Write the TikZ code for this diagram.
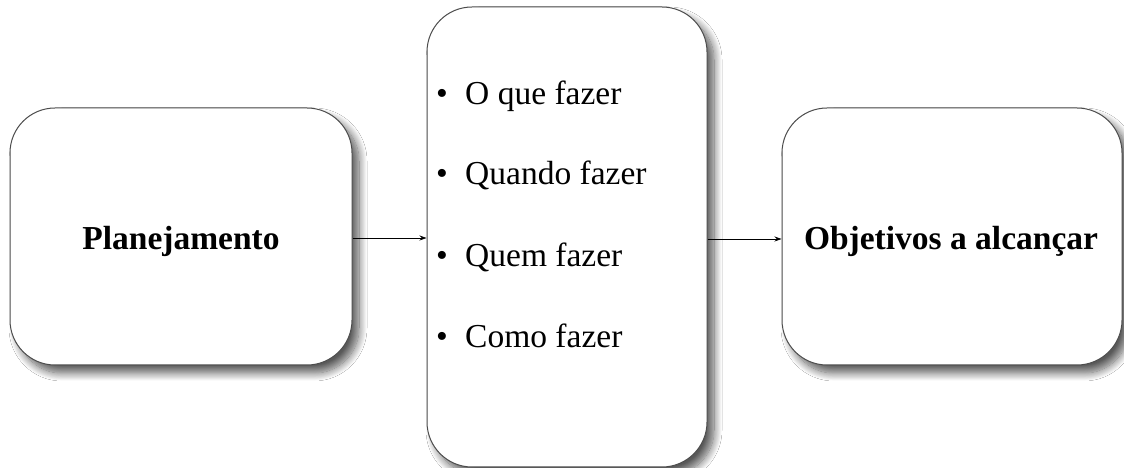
\documentclass[tikz,border=0pt]{standalone}
\usepackage{fontspec}
\setmainfont{Liberation Serif}
\usetikzlibrary{shadows.blur,arrows.meta}
\begin{document}
\begin{tikzpicture}[x=1pt,y=1pt,
  card/.style={draw=black!70, line width=1pt, fill=white, rounded corners=45pt,
    blur shadow={shadow xshift=7pt, shadow yshift=-8pt, shadow blur radius=8pt,
      shadow blur steps=12, shadow opacity=65}},
  title/.style={font=\fontsize{33.5}{40}\selectfont\bfseries, anchor=base},
  item/.style={font=\fontsize{33.5}{40}\selectfont, anchor=base west},
  flow/.style={line width=0.8pt, -{Stealth[length=7pt,width=5pt]}}]
\useasboundingbox (0,0) rectangle (1124,468);
\fill[white] (0,0) rectangle (1124,468);
% the three boxes
\node[card, minimum width=342pt, minimum height=257pt] (plan) at (181,231.5) {};
\node[card, minimum width=280pt, minimum height=460pt] (what) at (567,231) {};
\node[card, minimum width=340pt, minimum height=257pt] (goal) at (952,231.5) {};
% box titles
\node[title] (plantxt) at (181,218) {Planejamento};
\node[title] (goaltxt) at (951,218) {Objetivos a alcançar};
% bullet list in the middle box
\foreach \y/\t [count=\i] in {363/O que fazer, 283/Quando fazer, 201/Quem fazer, 120/Como fazer}{
  \node[item, inner sep=0pt] (b\i) at (436,\y) {•};
  \node[item, inner sep=0pt] (t\i) at (465,\y) {\t};
}
% connectors
\draw[flow] (plan.east |- 0,230) -- (what.west |- 0,230);
\draw[flow] (what.east |- 0,229) -- (goal.west |- 0,229);
\end{tikzpicture}
\end{document}
